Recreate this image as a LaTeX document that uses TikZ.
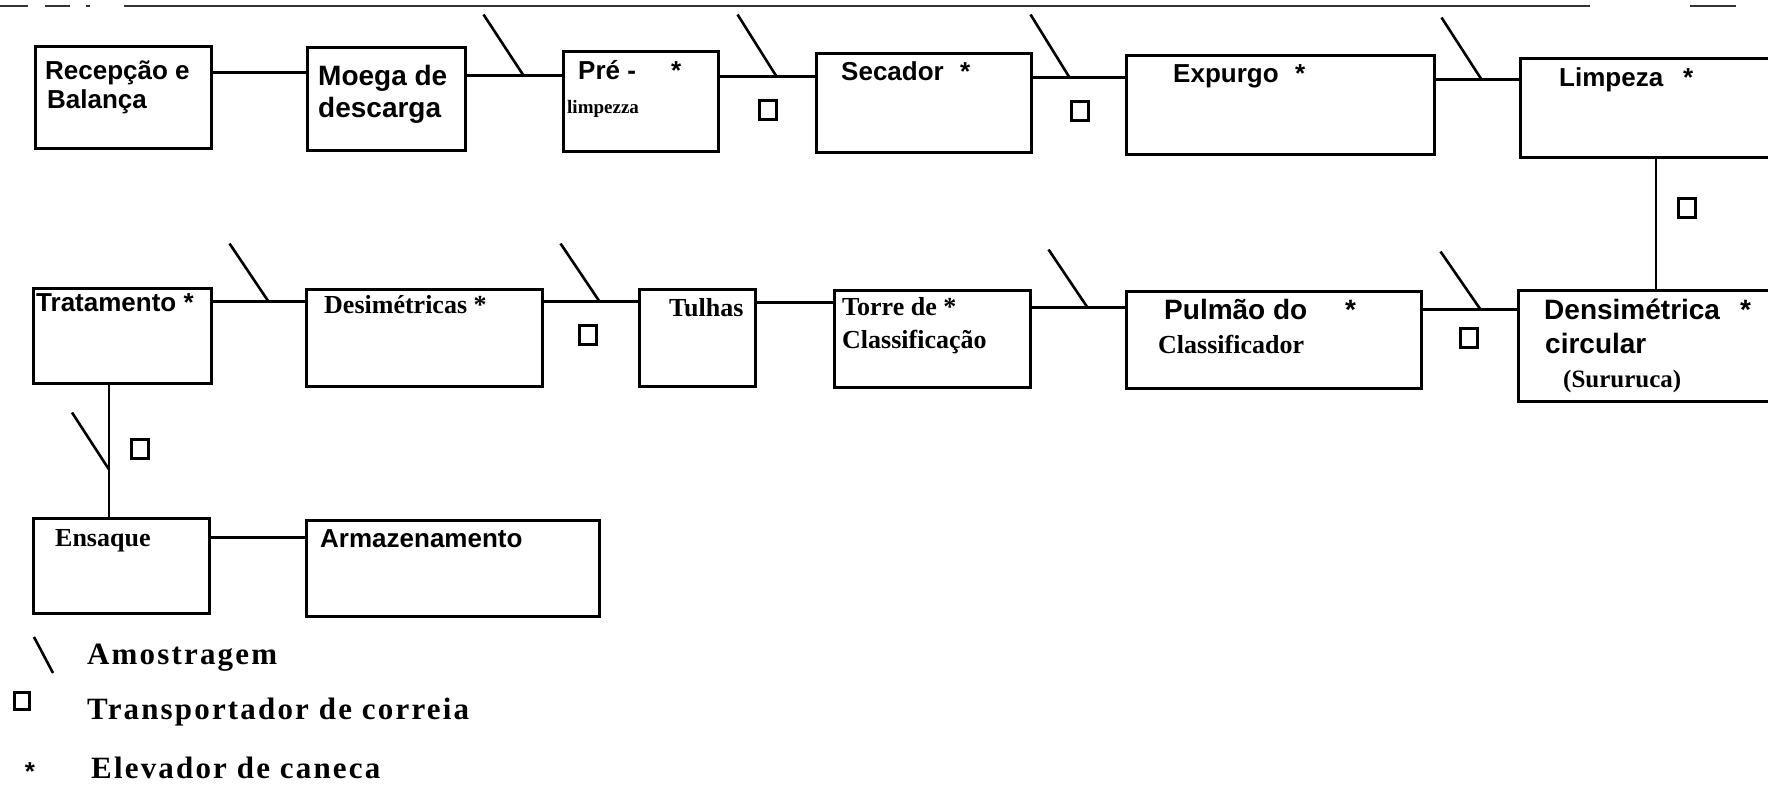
\documentclass[tikz,border=0pt]{standalone}
\usepackage{fontspec}
\setmainfont{Liberation Serif}
\newfontfamily\arial{Liberation Sans}
\newfontfamily\legfont[LetterSpace=7]{Liberation Serif}
\usetikzlibrary{calc}
\tikzset{
  box/.style={draw, line width=3pt, inner sep=0pt, rectangle},
  conn/.style={line width=2.6pt},
  sq/.style={draw, line width=2.4pt, inner sep=0pt, minimum width=17pt, minimum height=19pt},
  af/.style={anchor=base west, inner sep=0pt, font=\arial\bfseries\fontsize{26}{30}\selectfont},
  afL/.style={anchor=base west, inner sep=0pt, font=\arial\bfseries\fontsize{28}{32}\selectfont},
  tb/.style={anchor=base west, inner sep=0pt, font=\bfseries\fontsize{26}{30}\selectfont},
  tbs/.style={anchor=base west, inner sep=0pt, font=\bfseries\fontsize{19}{23}\selectfont},
  leg/.style={anchor=base west, inner sep=0pt, font=\legfont\bfseries\fontsize{31}{35}\selectfont},
  scan/.style={line width=1.6pt, black!80},
}
\begin{document}
\begin{tikzpicture}[x=1pt,y=-1pt]
\clip (0,0) rectangle (1768,784);
\fill[white] (0,0) rectangle (1768,784);
% scan border line
\draw[scan] (0,6) -- (28,6) (45,6) -- (70,6) (86,6) -- (90,6) (124,6) -- (1590,6) (1690,6) -- (1736,6);
% boxes row 1
\node[box, minimum width=176pt, minimum height=101pt] (b1) at (123,97.5) {};
\node[box, minimum width=158pt, minimum height=102pt] (b2) at (386,99) {};
\node[box, minimum width=155pt, minimum height=99pt] (b3) at (640.5,101.5) {};
\node[box, minimum width=215pt, minimum height=98pt] (b4) at (923.5,103) {};
\node[box, minimum width=308pt, minimum height=98pt] (b5) at (1280,105) {};
\node[box, minimum width=280pt, minimum height=98pt] (b6) at (1660,108) {};
% boxes row 2
\node[box, minimum width=178pt, minimum height=95pt] (b7) at (122,335.5) {};
\node[box, minimum width=236pt, minimum height=97pt] (b8) at (424,337.5) {};
\node[box, minimum width=116pt, minimum height=97pt] (b9) at (697,337.5) {};
\node[box, minimum width=196pt, minimum height=97pt] (b10) at (932,338.5) {};
\node[box, minimum width=295pt, minimum height=97pt] (b11) at (1273.5,339.5) {};
\node[box, minimum width=282pt, minimum height=111pt] (b12) at (1659,345.5) {};
% boxes row 3
\node[box, minimum width=176pt, minimum height=95pt] (b13) at (121,565.5) {};
\node[box, minimum width=293pt, minimum height=96pt] (b14) at (452.5,568) {};
% connectors row 1
\coordinate (t12) at ([yshift=-27pt]b1.north east);
\coordinate (t23) at ([yshift=-29pt]b2.north east);
\coordinate (t34) at ([yshift=-26pt]b3.north east);
\coordinate (t45) at ([yshift=-25pt]b4.north east);
\coordinate (t56) at ([yshift=-25pt]b5.north east);
\draw[conn] (t12) -- (t12 -| b2.west);
\draw[conn] (t23) -- (t23 -| b3.west);
\draw[conn] (t34) -- (t34 -| b4.west);
\draw[conn] (t45) -- (t45 -| b5.west);
\draw[conn] (t56) -- (t56 -| b6.west);
% connectors row 2
\coordinate (t78) at ([yshift=-15pt]b7.north east);
\coordinate (t89) at ([yshift=-14pt]b8.north east);
\coordinate (t910) at ([yshift=-15pt]b9.north east);
\coordinate (t1011) at ([yshift=-19pt]b10.north east);
\coordinate (t1112) at ([yshift=-20pt]b11.north east);
\draw[conn] (t78) -- (t78 -| b8.west);
\draw[conn] (t89) -- (t89 -| b9.west);
\draw[conn] (t910) -- (t910 -| b10.west);
\draw[conn] (t1011) -- (t1011 -| b11.west);
\draw[conn] (t1112) -- (t1112 -| b12.west);
% row 3
\coordinate (t1314) at ([yshift=-21pt]b13.north east);
\draw[conn] (t1314) -- (t1314 -| b14.west);
% verticals
\coordinate (v1) at ([xshift=-3pt]b12.north);
\draw[conn] (v1) -- (v1 |- b6.south);
\coordinate (v2) at ([xshift=-12pt]b13.north);
\draw[conn] (v2) -- (v2 |- b7.south);
% sampling marks
\draw[conn] ($(t23 -| b3.west)+(-38,0)$) -- ++(-40,-61);
\draw[conn] ($(t34 -| b4.west)+(-38,0)$) -- ++(-39,-62);
\draw[conn] ($(t45 -| b5.west)+(-55,0)$) -- ++(-39,-63);
\draw[conn] ($(t56 -| b6.west)+(-37,0)$) -- ++(-40,-62);
\draw[conn] ($(t78 -| b8.west)+(-36,0)$) -- ++(-39,-58);
\draw[conn] ($(t89 -| b9.west)+(-38,0)$) -- ++(-39,-58);
\draw[conn] ($(t1011 -| b11.west)+(-37,0)$) -- ++(-39,-58);
\draw[conn] ($(t1112 -| b12.west)+(-36,0)$) -- ++(-40,-58);
\draw[conn] ($(v2)+(0,-47)$) -- ++(-37,-57);
% belt conveyors
\node[sq] (q1) at (768,110) {};
\node[sq] (q2) at (1080,111) {};
\node[sq] (q3) at (1687,208) {};
\node[sq] (q4) at (588,335) {};
\node[sq] (q5) at (1469,338) {};
\node[sq] (q6) at (140,449) {};
% labels row 1
\node[af] (l1a) at (45,79) {Recepção e};
\node[af] (l1b) at (47,108) {Balança};
\node[afL] (l2a) at (318,85) {Moega de};
\node[afL] (l2b) at (318,117) {descarga};
\node[af] (l3a) at (578,79) {Pré -};
\node[af] (l3s) at (671,79) {*};
\node[tbs] (l3b) at (567,113) {limpezza};
\node[af] (l4a) at (841,81) {Secador};
\node[af] (l4s) at (960,81) {*};
\node[af] (l5a) at (1173,82) {Expurgo};
\node[af] (l5s) at (1295,82) {*};
\node[af] (l6a) at (1559,86) {Limpeza};
\node[af] (l6s) at (1683,86) {*};
% labels row 2
\node[af] (l7a) at (36,311) {Tratamento *};
\node[tb] (l8a) at (324,313) {Desimétricas *};
\node[tb] (l9a) at (669,316) {Tulhas};
\node[tb] (l10a) at (842,315) {Torre de *};
\node[tb] (l10b) at (842,348) {Classificação};
\node[afL] (l11a) at (1164,319) {Pulmão do};
\node[afL] (l11s) at (1345,319) {*};
\node[tb] (l11b) at (1158,353) {Classificador};
\node[afL] (l12a) at (1544,319) {Densimétrica};
\node[afL] (l12s) at (1740,319) {*};
\node[afL] (l12b) at (1545,353) {circular};
\node[tb, font=\bfseries\fontsize{25}{29}\selectfont] (l12c) at (1563,387) {(Sururuca)};
% labels row 3
\node[tb] (l13a) at (55,546) {Ensaque};
\node[af] (l14a) at (320,547) {Armazenamento};
% legend
\draw[conn] (34,637) -- (53,673);
\node[sq, minimum width=15pt, minimum height=17pt] (lq) at (22,701) {};
\node[af, anchor=base] (ls) at (30,780) {*};
\node[leg] (lg1) at (87,664) {Amostragem};
\node[leg] (lg2) at (87,719) {Transportador de correia};
\node[leg] (lg3) at (91,778) {Elevador de caneca};
\end{tikzpicture}
\end{document}
